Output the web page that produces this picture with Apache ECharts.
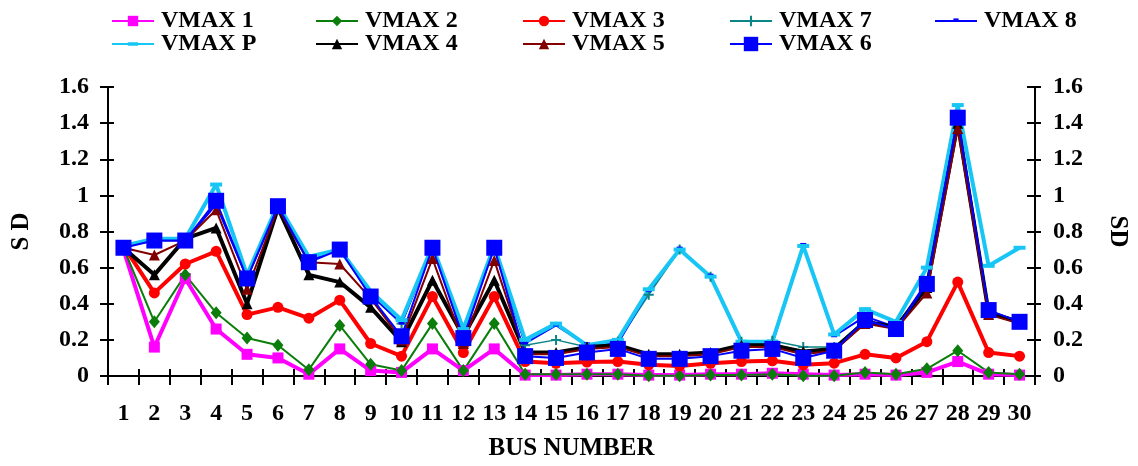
<!DOCTYPE html>
<html>
<head>
<meta charset="utf-8">
<script src="https://cdn.jsdelivr.net/npm/echarts@6/dist/echarts.min.js"></script>
<style>
  html, body { margin: 0; padding: 0; background: #ffffff; }
  #chart { width: 1138px; height: 466px; }
</style>
</head>
<body>
<div id="chart"></div>
<script>
// Bus numbers along the x axis
const busNumbers = ['1','2','3','4','5','6','7','8','9','10','11','12','13','14','15',
                    '16','17','18','19','20','21','22','23','24','25','26','27','28','29','30'];

// SD tick values on both y axes
const sdTicks = [0, 0.2, 0.4, 0.6, 0.8, 1, 1.2, 1.4, 1.6];

// Standard deviation per bus, one array per case
const vmax1 = [0.70, 0.16, 0.54, 0.26, 0.12, 0.10, 0.01, 0.15, 0.03, 0.02, 0.15, 0.03, 0.15, 0.005, 0.005,
               0.01, 0.01, 0.005, 0.005, 0.01, 0.01, 0.015, 0.01, 0.005, 0.01, 0.005, 0.02, 0.08, 0.01, 0.005];
const vmax2 = [0.71, 0.30, 0.56, 0.35, 0.21, 0.17, 0.035, 0.28, 0.065, 0.03, 0.29, 0.03, 0.29, 0.01, 0.01,
               0.01, 0.01, 0.002, 0.002, 0.005, 0.005, 0.01, 0.002, 0.002, 0.02, 0.01, 0.04, 0.14, 0.02, 0.01];
const vmax3 = [0.72, 0.46, 0.62, 0.69, 0.34, 0.38, 0.32, 0.42, 0.18, 0.11, 0.44, 0.13, 0.44, 0.08, 0.07,
               0.077, 0.08, 0.062, 0.055, 0.07, 0.08, 0.084, 0.062, 0.071, 0.12, 0.10, 0.19, 0.52, 0.13, 0.11];
const vmax7 = [0.72, 0.75, 0.75, 0.95, 0.54, 0.94, 0.64, 0.70, 0.45, 0.29, 0.71, 0.24, 0.71, 0.17, 0.20,
               0.16, 0.19, 0.45, 0.70, 0.55, 0.19, 0.195, 0.16, 0.16, 0.31, 0.27, 0.51, 1.41, 0.36, 0.30];
const vmax8 = [0.72, 0.75, 0.75, 0.95, 0.54, 0.94, 0.64, 0.70, 0.45, 0.29, 0.71, 0.24, 0.71, 0.18, 0.28,
               0.17, 0.18, 0.47, 0.70, 0.55, 0.18, 0.18, 0.72, 0.22, 0.33, 0.27, 0.52, 1.42, 0.36, 0.30];
const vmaxP = [0.72, 0.76, 0.76, 1.06, 0.56, 0.95, 0.66, 0.70, 0.47, 0.31, 0.72, 0.26, 0.72, 0.20, 0.29,
               0.17, 0.20, 0.48, 0.70, 0.55, 0.19, 0.19, 0.72, 0.23, 0.37, 0.30, 0.60, 1.50, 0.61, 0.71];
const vmax4 = [0.71, 0.56, 0.76, 0.82, 0.40, 0.93, 0.56, 0.52, 0.38, 0.19, 0.53, 0.22, 0.53, 0.13, 0.13,
               0.16, 0.17, 0.12, 0.12, 0.13, 0.17, 0.17, 0.135, 0.15, 0.30, 0.27, 0.49, 1.40, 0.35, 0.30];
const vmax5 = [0.71, 0.67, 0.75, 0.92, 0.48, 0.93, 0.63, 0.62, 0.43, 0.20, 0.65, 0.18, 0.64, 0.12, 0.12,
               0.15, 0.16, 0.11, 0.11, 0.12, 0.16, 0.16, 0.12, 0.14, 0.29, 0.26, 0.46, 1.37, 0.34, 0.29];
const vmax6 = [0.71, 0.75, 0.75, 0.97, 0.54, 0.94, 0.63, 0.70, 0.44, 0.22, 0.71, 0.21, 0.71, 0.11, 0.10,
               0.13, 0.15, 0.095, 0.095, 0.11, 0.14, 0.15, 0.10, 0.14, 0.31, 0.26, 0.51, 1.43, 0.365, 0.30];

const FONT = '"Liberation Serif", "Times New Roman", serif';
// Marker shapes; the leading/trailing moveTo points pad the bounding box so the
// visible part keeps its proportions inside a square symbol box.
const PLUS = 'path://M4,0H6V4H10V6H6V10H4V6H0V4H4Z';
const DASH = 'path://M0,0M0,4H12V8H0ZM12,12';
const SMALL_BAR = 'path://M0,0M3,3H9V7H3ZM12,12';

function lineSeries(name, data, color, width, symbol, size) {
  return {
    name: name, type: 'line', data: data,
    showAllSymbol: true,
    symbol: symbol, symbolSize: size,
    lineStyle: { color: color, width: width },
    itemStyle: { color: color, borderWidth: 0 },
    emphasis: { disabled: true },
    animation: false,
    z: 3
  };
}

const series = [
  lineSeries('VMAX 1', vmax1, '#ff00ff', 4, 'rect', 11),
  lineSeries('VMAX 2', vmax2, '#0b7d0b', 2, 'diamond', [11, 13]),
  lineSeries('VMAX 3', vmax3, '#ff0000', 4, 'circle', 11),
  lineSeries('VMAX 7', vmax7, '#0b8585', 1.5, PLUS, 10),
  lineSeries('VMAX 8', vmax8, '#0000ff', 2, SMALL_BAR, 12),
  lineSeries('VMAX P', vmaxP, '#18c6f5', 4, DASH, 12),
  lineSeries('VMAX 4', vmax4, '#000000', 4, 'triangle', 11),
  lineSeries('VMAX 5', vmax5, '#800000', 2, 'triangle', 11),
  lineSeries('VMAX 6', vmax6, '#0000ff', 2, 'rect', 16)
];

// Legend: five columns, two rows, one entry per component
const legendCols = [111, 315, 522, 729, 934];
const legendRows = [9, 32];
const legendItems = [
  { name: 'VMAX 1', col: 0, row: 0, h: 13 },
  { name: 'VMAX 2', col: 1, row: 0, h: 13 },
  { name: 'VMAX 3', col: 2, row: 0, h: 13 },
  { name: 'VMAX 7', col: 3, row: 0, h: 13 },
  { name: 'VMAX 8', col: 4, row: 0, h: 13 },
  { name: 'VMAX P', col: 0, row: 1, h: 13 },
  { name: 'VMAX 4', col: 1, row: 1, h: 13 },
  { name: 'VMAX 5', col: 2, row: 1, h: 13 },
  { name: 'VMAX 6', col: 3, row: 1, h: 18 }
];
const legends = legendItems.map(it => ({
  left: legendCols[it.col], top: legendRows[it.row], padding: 0,
  data: [it.name],
  itemWidth: 42, itemHeight: it.h,
  selectedMode: false,
  textStyle: { fontFamily: FONT, fontWeight: 'bold', fontSize: 24, color: '#000', lineHeight: 24, padding: [0, 0, 0, 2] }
}));

const axisText = { fontFamily: FONT, fontWeight: 'bold', fontSize: 24, color: '#000' };
const nameText = { fontFamily: FONT, fontWeight: 'bold', fontSize: 25, color: '#000' };
const blackLine = { show: true, lineStyle: { color: '#000', width: 2 } };

const option = {
  backgroundColor: '#ffffff',
  animation: false,
  legend: legends,
  grid: { left: 108, right: 103, top: 87, bottom: 88, containLabel: false },
  xAxis: [
    {
      type: 'category', data: busNumbers, boundaryGap: true, position: 'bottom',
      name: 'BUS NUMBER', nameLocation: 'middle', nameGap: 60, nameTextStyle: nameText,
      axisLine: Object.assign({ onZero: false }, blackLine),
      axisTick: { show: true, inside: false, length: 9, lineStyle: { color: '#000', width: 2 } },
      axisLabel: Object.assign({ interval: 0, margin: 26 }, axisText),
      splitLine: { show: false }
    },
    {
      type: 'category', data: busNumbers, boundaryGap: true, position: 'bottom',
      axisLine: { show: false, onZero: false },
      axisTick: { show: true, inside: true, length: 7, lineStyle: { color: '#000', width: 2 } },
      axisLabel: { show: false },
      splitLine: { show: false }
    }
  ],
  yAxis: [
    {
      type: 'value', min: sdTicks[0], max: sdTicks[sdTicks.length - 1], interval: sdTicks[1] - sdTicks[0],
      position: 'left',
      name: 'S D', nameLocation: 'middle', nameGap: 74, nameRotate: 90, nameTextStyle: nameText,
      axisLine: blackLine,
      axisTick: { show: true, inside: false, length: 8, lineStyle: { color: '#000', width: 2 } },
      axisLabel: Object.assign({ margin: 19 }, axisText),
      splitLine: { show: false }
    },
    {
      type: 'value', min: sdTicks[0], max: sdTicks[sdTicks.length - 1], interval: sdTicks[1] - sdTicks[0],
      position: 'right',
      name: 'SD', nameLocation: 'middle', nameGap: 70, nameRotate: -90, nameTextStyle: nameText,
      axisLine: blackLine,
      axisTick: { show: true, inside: false, length: 6, lineStyle: { color: '#000', width: 2 } },
      axisLabel: Object.assign({ margin: 18 }, axisText),
      splitLine: { show: false }
    },
    {
      type: 'value', min: sdTicks[0], max: sdTicks[sdTicks.length - 1], interval: sdTicks[1] - sdTicks[0],
      position: 'left',
      axisLine: { show: false },
      axisTick: { show: true, inside: true, length: 6, lineStyle: { color: '#000', width: 2 } },
      axisLabel: { show: false },
      splitLine: { show: false }
    },
    {
      type: 'value', min: sdTicks[0], max: sdTicks[sdTicks.length - 1], interval: sdTicks[1] - sdTicks[0],
      position: 'right',
      axisLine: { show: false },
      axisTick: { show: true, inside: true, length: 8, lineStyle: { color: '#000', width: 2 } },
      axisLabel: { show: false },
      splitLine: { show: false }
    }
  ],
  series: series
};

const chart = echarts.init(document.getElementById('chart'), null, { renderer: 'canvas' });
chart.setOption(option);
</script>
</body>
</html>
